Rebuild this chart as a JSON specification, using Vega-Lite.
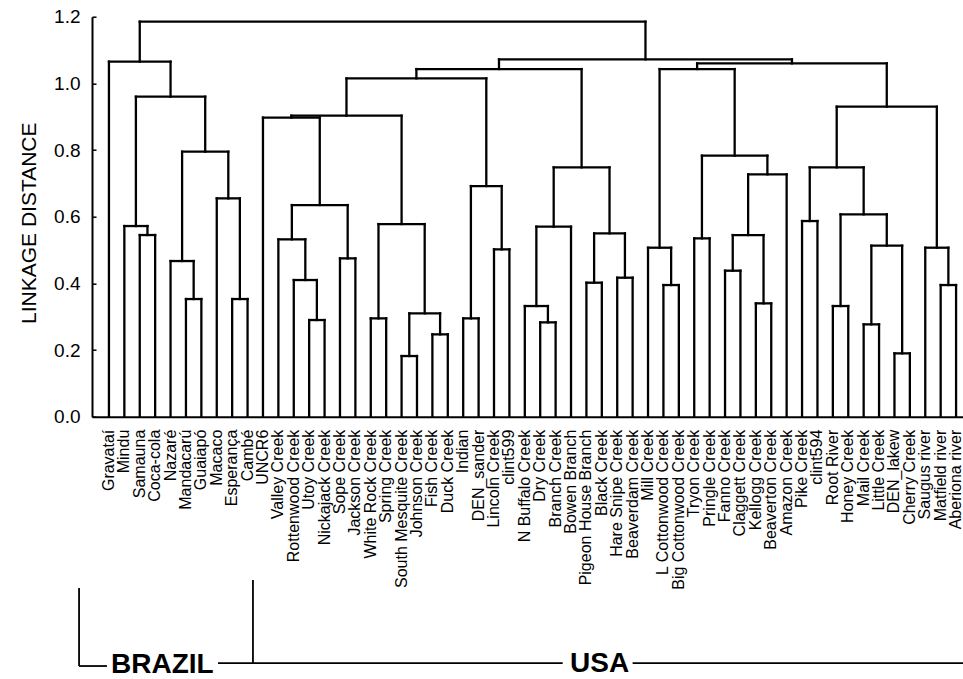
{
  "$schema": "https://vega.github.io/schema/vega-lite/v6.json",
  "autosize": {"type": "none"},
  "padding": {"left": 92, "top": 16.7, "right": 0, "bottom": 262.3},
  "width": 871,
  "height": 400,
  "background": "white",
  "config": {
    "view": {"stroke": null},
    "font": "Liberation Sans",
    "axis": {"grid": false}
  },
  "datasets": {
    "links": [
      {"node": "n1", "lx": 3, "rx": 4, "lh": 0, "rh": 0, "h": 0.545},
      {"node": "n2", "lx": 2, "rx": 3.5, "lh": 0, "rh": 0.545, "h": 0.572},
      {"node": "n3", "lx": 6, "rx": 7, "lh": 0, "rh": 0, "h": 0.353},
      {"node": "n4", "lx": 5, "rx": 6.5, "lh": 0, "rh": 0.353, "h": 0.467},
      {"node": "n5", "lx": 9, "rx": 10, "lh": 0, "rh": 0, "h": 0.353},
      {"node": "n6", "lx": 8, "rx": 9.5, "lh": 0, "rh": 0.353, "h": 0.655},
      {"node": "n7", "lx": 5.75, "rx": 8.75, "lh": 0.467, "rh": 0.655, "h": 0.795},
      {"node": "n8", "lx": 2.75, "rx": 7.25, "lh": 0.572, "rh": 0.795, "h": 0.96},
      {"node": "n9", "lx": 1, "rx": 5, "lh": 0, "rh": 0.96, "h": 1.065},
      {"node": "u1", "lx": 14, "rx": 15, "lh": 0, "rh": 0, "h": 0.29},
      {"node": "u2", "lx": 13, "rx": 14.5, "lh": 0, "rh": 0.29, "h": 0.41},
      {"node": "u3", "lx": 12, "rx": 13.75, "lh": 0, "rh": 0.41, "h": 0.532},
      {"node": "u4", "lx": 16, "rx": 17, "lh": 0, "rh": 0, "h": 0.475},
      {"node": "u5", "lx": 12.875, "rx": 16.5, "lh": 0.532, "rh": 0.475, "h": 0.635},
      {"node": "u6", "lx": 11, "rx": 14.6875, "lh": 0, "rh": 0.635, "h": 0.897},
      {"node": "u7", "lx": 18, "rx": 19, "lh": 0, "rh": 0, "h": 0.295},
      {"node": "u8", "lx": 20, "rx": 21, "lh": 0, "rh": 0, "h": 0.182},
      {"node": "u9", "lx": 22, "rx": 23, "lh": 0, "rh": 0, "h": 0.247},
      {"node": "u10", "lx": 20.5, "rx": 22.5, "lh": 0.182, "rh": 0.247, "h": 0.31},
      {"node": "u11", "lx": 18.5, "rx": 21.5, "lh": 0.295, "rh": 0.31, "h": 0.578},
      {"node": "u12", "lx": 12.84375, "rx": 20, "lh": 0.897, "rh": 0.578, "h": 0.903},
      {"node": "u13", "lx": 24, "rx": 25, "lh": 0, "rh": 0, "h": 0.295},
      {"node": "u14", "lx": 26, "rx": 27, "lh": 0, "rh": 0, "h": 0.502},
      {"node": "u15", "lx": 24.5, "rx": 26.5, "lh": 0.295, "rh": 0.502, "h": 0.692},
      {"node": "u16", "lx": 16.421875, "rx": 25.5, "lh": 0.903, "rh": 0.692, "h": 1.015},
      {"node": "u17", "lx": 29, "rx": 30, "lh": 0, "rh": 0, "h": 0.283},
      {"node": "u18", "lx": 28, "rx": 29.5, "lh": 0, "rh": 0.283, "h": 0.332},
      {"node": "u19", "lx": 28.75, "rx": 31, "lh": 0.332, "rh": 0, "h": 0.57},
      {"node": "u20", "lx": 32, "rx": 33, "lh": 0, "rh": 0, "h": 0.402},
      {"node": "u21", "lx": 34, "rx": 35, "lh": 0, "rh": 0, "h": 0.417},
      {"node": "u22", "lx": 32.5, "rx": 34.5, "lh": 0.402, "rh": 0.417, "h": 0.55},
      {"node": "u23", "lx": 29.875, "rx": 33.5, "lh": 0.57, "rh": 0.55, "h": 0.748},
      {"node": "u24", "lx": 20.9609, "rx": 31.6875, "lh": 1.015, "rh": 0.748, "h": 1.043},
      {"node": "u25", "lx": 37, "rx": 38, "lh": 0, "rh": 0, "h": 0.395},
      {"node": "u26", "lx": 36, "rx": 37.5, "lh": 0, "rh": 0.395, "h": 0.507},
      {"node": "u27", "lx": 39, "rx": 40, "lh": 0, "rh": 0, "h": 0.535},
      {"node": "u28", "lx": 41, "rx": 42, "lh": 0, "rh": 0, "h": 0.438},
      {"node": "u29", "lx": 43, "rx": 44, "lh": 0, "rh": 0, "h": 0.34},
      {"node": "u30", "lx": 41.5, "rx": 43.5, "lh": 0.438, "rh": 0.34, "h": 0.545},
      {"node": "u31", "lx": 42.5, "rx": 45, "lh": 0.545, "rh": 0, "h": 0.727},
      {"node": "u32", "lx": 39.5, "rx": 43.75, "lh": 0.535, "rh": 0.727, "h": 0.783},
      {"node": "u33", "lx": 36.75, "rx": 41.625, "lh": 0.507, "rh": 0.783, "h": 1.043},
      {"node": "u34", "lx": 46, "rx": 47, "lh": 0, "rh": 0, "h": 0.587},
      {"node": "u35", "lx": 48, "rx": 49, "lh": 0, "rh": 0, "h": 0.332},
      {"node": "u36", "lx": 50, "rx": 51, "lh": 0, "rh": 0, "h": 0.277},
      {"node": "u37", "lx": 52, "rx": 53, "lh": 0, "rh": 0, "h": 0.19},
      {"node": "u38", "lx": 50.5, "rx": 52.5, "lh": 0.277, "rh": 0.19, "h": 0.513},
      {"node": "u39", "lx": 48.5, "rx": 51.5, "lh": 0.332, "rh": 0.513, "h": 0.607},
      {"node": "u40", "lx": 46.5, "rx": 50, "lh": 0.587, "rh": 0.607, "h": 0.748},
      {"node": "u41", "lx": 55, "rx": 56, "lh": 0, "rh": 0, "h": 0.395},
      {"node": "u42", "lx": 54, "rx": 55.5, "lh": 0, "rh": 0.395, "h": 0.507},
      {"node": "u43", "lx": 48.25, "rx": 54.75, "lh": 0.748, "rh": 0.507, "h": 0.93},
      {"node": "u44", "lx": 39.1875, "rx": 51.5, "lh": 1.043, "rh": 0.93, "h": 1.06},
      {"node": "u45", "lx": 26.3242, "rx": 45.34375, "lh": 1.043, "rh": 1.06, "h": 1.072},
      {"node": "root", "lx": 3, "rx": 35.834, "lh": 1.065, "rh": 1.072, "h": 1.185}
    ],
    "leaves": [
      {"leaf": "Gravataí", "pos": 1},
      {"leaf": "Mindu", "pos": 2},
      {"leaf": "Samauna", "pos": 3},
      {"leaf": "Coca-cola", "pos": 4},
      {"leaf": "Nazaré", "pos": 5},
      {"leaf": "Mandacarú", "pos": 6},
      {"leaf": "Guaiapó", "pos": 7},
      {"leaf": "Macaco", "pos": 8},
      {"leaf": "Esperança", "pos": 9},
      {"leaf": "Cambé", "pos": 10},
      {"leaf": "UNCR6", "pos": 11},
      {"leaf": "Valley Creek", "pos": 12},
      {"leaf": "Rottenwood Creek", "pos": 13},
      {"leaf": "Utoy Creek", "pos": 14},
      {"leaf": "Nickajack Creek", "pos": 15},
      {"leaf": "Sope Creek", "pos": 16},
      {"leaf": "Jackson Creek", "pos": 17},
      {"leaf": "White Rock Creek", "pos": 18},
      {"leaf": "Spring Creek", "pos": 19},
      {"leaf": "South Mesquite Creek", "pos": 20},
      {"leaf": "Johnson Creek", "pos": 21},
      {"leaf": "Fish Creek", "pos": 22},
      {"leaf": "Duck Creek", "pos": 23},
      {"leaf": "Indian", "pos": 24},
      {"leaf": "DEN_sander", "pos": 25},
      {"leaf": "Lincoln Creek", "pos": 26},
      {"leaf": "clint599", "pos": 27},
      {"leaf": "N Buffalo Creek", "pos": 28},
      {"leaf": "Dry Creek", "pos": 29},
      {"leaf": "Branch Creek", "pos": 30},
      {"leaf": "Bowen Branch", "pos": 31},
      {"leaf": "Pigeon House Branch", "pos": 32},
      {"leaf": "Black Creek", "pos": 33},
      {"leaf": "Hare Snipe Creek", "pos": 34},
      {"leaf": "Beaverdam Creek", "pos": 35},
      {"leaf": "Mill Creek", "pos": 36},
      {"leaf": "L Cottonwood Creek", "pos": 37},
      {"leaf": "Big Cottonwood Creek", "pos": 38},
      {"leaf": "Tryon Creek", "pos": 39},
      {"leaf": "Pringle Creek", "pos": 40},
      {"leaf": "Fanno Creek", "pos": 41},
      {"leaf": "Claggett Creek", "pos": 42},
      {"leaf": "Kellogg Creek", "pos": 43},
      {"leaf": "Beaverton Creek", "pos": 44},
      {"leaf": "Amazon Creek", "pos": 45},
      {"leaf": "Pike Creek", "pos": 46},
      {"leaf": "clint594", "pos": 47},
      {"leaf": "Root River", "pos": 48},
      {"leaf": "Honey Creek", "pos": 49},
      {"leaf": "Mail Creek", "pos": 50},
      {"leaf": "Little Creek", "pos": 51},
      {"leaf": "DEN_lakew", "pos": 52},
      {"leaf": "Cherry Creek", "pos": 53},
      {"leaf": "Saugus river", "pos": 54},
      {"leaf": "Matfield river", "pos": 55},
      {"leaf": "Aberiona river", "pos": 56}
    ],
    "brackets": [
      {"x": -0.94, "x2": -0.94, "y": -0.514, "y2": -0.748},
      {"x": -0.94, "x2": 0.87, "y": -0.748, "y2": -0.748},
      {"x": 8.08, "x2": 10.35, "y": -0.739, "y2": -0.739},
      {"x": 10.35, "x2": 10.35, "y": -0.49, "y2": -0.739},
      {"x": 10.35, "x2": 30.46, "y": -0.739, "y2": -0.739},
      {"x": 35.0, "x2": 56.45, "y": -0.739, "y2": -0.739}
    ],
    "groups": [
      {"group": "BRAZIL", "x": 4.47, "y": -0.769},
      {"group": "USA", "x": 32.86, "y": -0.766}
    ]
  },
  "layer": [
    {
      "data": {"name": "links"},
      "mark": {"type": "rule", "color": "black", "strokeWidth": 2.3, "strokeCap": "square"},
      "encoding": {
        "x": {
          "field": "lx", "type": "quantitative",
          "scale": {"domain": [-0.1, 56.45], "nice": false, "zero": false},
          "axis": {"title": null, "labels": false, "ticks": false, "domain": true, "domainColor": "black", "domainWidth": 2}
        },
        "x2": {"field": "rx"},
        "y": {
          "field": "h", "type": "quantitative",
          "scale": {"domain": [0, 1.2], "nice": false, "zero": false},
          "axis": {
            "title": "LINKAGE DISTANCE",
            "titleFontSize": 21, "titleFontWeight": "normal", "titleColor": "black",
            "titleX": -57, "titleY": 206, "titleAlign": "center", "titleBaseline": "alphabetic", "titleAngle": 270,
            "values": [0, 0.1, 0.2, 0.3, 0.4, 0.5, 0.6, 0.7, 0.8, 0.9, 1.0, 1.1, 1.2],
            "labelExpr": "round(datum.value * 10) % 2 == 0 ? format(datum.value, '.1f') : ''",
            "labelFontSize": 19, "labelColor": "black", "labelPadding": 16,
            "tickSize": -4, "tickColor": "black", "tickWidth": 1.5,
            "domainColor": "black", "domainWidth": 2
          }
        }
      }
    },
    {
      "data": {"name": "links"},
      "mark": {"type": "rule", "color": "black", "strokeWidth": 2.3, "strokeCap": "square"},
      "encoding": {
        "x": {"field": "lx", "type": "quantitative"},
        "y": {"field": "lh", "type": "quantitative"},
        "y2": {"field": "h"}
      }
    },
    {
      "data": {"name": "links"},
      "mark": {"type": "rule", "color": "black", "strokeWidth": 2.3, "strokeCap": "square"},
      "encoding": {
        "x": {"field": "rx", "type": "quantitative"},
        "y": {"field": "rh", "type": "quantitative"},
        "y2": {"field": "h"}
      }
    },
    {
      "data": {"name": "leaves"},
      "mark": {"type": "text", "angle": 270, "align": "right", "baseline": "middle", "dx": -13, "fontSize": 16, "color": "black"},
      "encoding": {
        "x": {"field": "pos", "type": "quantitative"},
        "y": {"datum": 0, "type": "quantitative"},
        "text": {"field": "leaf"}
      }
    },
    {
      "data": {"name": "brackets"},
      "mark": {"type": "rule", "color": "black", "strokeWidth": 1.8},
      "encoding": {
        "x": {"field": "x", "type": "quantitative"},
        "x2": {"field": "x2"},
        "y": {"field": "y", "type": "quantitative"},
        "y2": {"field": "y2"}
      }
    },
    {
      "data": {"name": "groups"},
      "mark": {"type": "text", "align": "center", "baseline": "alphabetic", "fontSize": 28, "fontWeight": "bold", "color": "black"},
      "encoding": {
        "x": {"field": "x", "type": "quantitative"},
        "y": {"field": "y", "type": "quantitative"},
        "text": {"field": "group"}
      }
    }
  ]
}
